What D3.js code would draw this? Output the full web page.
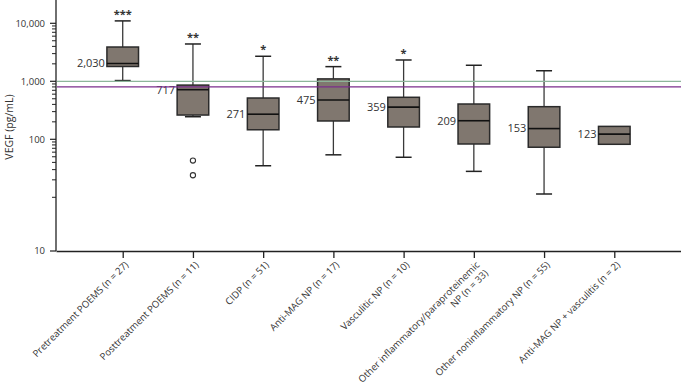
<!DOCTYPE html>
<html>
<head>
<meta charset="utf-8">
<script src="https://cdn.jsdelivr.net/npm/d3@7"></script>
<style>
    html, body { margin: 0; padding: 0; background: #fff; }
    body { width: 681px; height: 385px; overflow: hidden; font-family: "Open Sans", sans-serif; }
    text { fill: #333; }
</style>
</head>
<body>
<div id="chart"></div>
<script>
// Groups (label lines) and box values
const categories = [
    ["Pretreatment POEMS (n = 27)"],
    ["Posttreatment POEMS (n = 11)"],
    ["CIDP (n = 51)"],
    ["Anti-MAG NP (n = 17)"],
    ["Vasculitic NP (n = 10)"],
    ["Other inflammatory/paraproteinemic", "NP (n = 33)"],
    ["Other noninflammatory NP (n = 55)"],
    ["Anti-MAG NP + vasculitis (n = 2)"]
];
const whiskerLow  = [1030, 245, 35, 54, 49, 28, 11.4, 82];
const q1          = [1800, 262, 146, 207, 163, 83, 73, 82];
const medians     = [2030, 717, 271, 475, 359, 209, 153, 123];
const q3          = [3900, 860, 515, 1100, 530, 406, 365, 167];
const whiskerHigh = [11000, 4400, 2700, 1790, 2330, 1890, 1520, 167];
const outliers    = [[], [43, 24], [], [], [], [], [], []];
const stars       = ["***", "**", "*", "**", "*", "", "", ""];
const medianLabels = ["2,030", "717", "271", "475", "359", "209", "153", "123"];

// reference lines (pg/mL)
const refValues = [1000, 800];
const refColors = ["#8db59a", "#7b2d8b"];

const yMajor = [10000, 1000, 100];
const yMajorLabels = ["10,000", "1,000", "100"];
const yMinor = [20, 30, 40, 50, 60, 70, 80, 90, 200, 300, 400, 500, 600, 700, 800, 900,
                2000, 3000, 4000, 5000, 6000, 7000, 8000, 9000, 10];
const yBottomLabel = "10";

const width = 681, height = 385;
const left = 56, right = 681, plotTop = 0, plotBottom = 251;

const svg = d3.select("#chart").append("svg")
    .attr("width", width)
    .attr("height", height);

const keys = categories.map((c, i) => "c" + i);

const x = d3.scalePoint()
    .domain(keys)
    .range([left, right])
    .padding(0.95);

const y = d3.scaleLog()
    .domain([1, 10000])
    .range([255.3, 23.3]);

const boxW = x.step() * 0.45;
const capW = 16;

// Y axis
const yAxisG = svg.append("g").attr("transform", `translate(${left},0)`);
yAxisG.append("line")
    .attr("y1", plotTop).attr("y2", plotBottom)
    .attr("stroke", "#222").attr("stroke-width", 1.3);

yAxisG.selectAll(".minor")
    .data(yMinor)
    .join("line")
    .attr("x1", -4).attr("x2", 0)
    .attr("y1", d => y(d)).attr("y2", d => y(d))
    .attr("stroke", "#222").attr("stroke-width", 1);

const yTickData = yMajor.map((v, i) => ({ pos: y(v), label: yMajorLabels[i] }))
    .concat([{ pos: plotBottom, label: yBottomLabel }]);

yAxisG.selectAll(".major")
    .data(yTickData)
    .join("line")
    .attr("x1", -6).attr("x2", 0)
    .attr("y1", d => d.pos).attr("y2", d => d.pos)
    .attr("stroke", "#222").attr("stroke-width", 1.2);

yAxisG.selectAll(".ylab")
    .data(yTickData)
    .join("text")
    .attr("x", -11)
    .attr("y", d => d.pos)
    .attr("dy", "0.35em")
    .attr("text-anchor", "end")
    .style("font-size", "9.5px")
    .text(d => d.label);

svg.append("text")
    .attr("transform", `translate(13,127) rotate(-90)`)
    .attr("text-anchor", "middle")
    .style("font-size", "10.5px")
    .text("VEGF (pg/mL)");

// X axis
svg.append("g")
    .attr("transform", `translate(0,${plotBottom})`)
    .call(d3.axisBottom(x).tickSize(7).tickFormat("").tickSizeOuter(0))
    .call(g => g.select(".domain").attr("stroke", "#222").attr("stroke-width", 1.3))
    .call(g => g.selectAll(".tick line").attr("stroke", "#222").attr("stroke-width", 1.3));

const xLabels = svg.selectAll(".xlab")
    .data(categories)
    .join("text")
    .attr("transform", (d, i) => `translate(${x(keys[i]) + 4},${plotBottom + 12}) rotate(-45)`)
    .attr("text-anchor", "end")
    .style("font-size", "9.6px");

xLabels.selectAll("tspan")
    .data(d => d)
    .join("tspan")
    .attr("x", 0)
    .attr("dy", (d, j) => j === 0 ? "0.35em" : "1.25em")
    .text(d => d);

// Boxes
const boxes = svg.selectAll(".box")
    .data(keys)
    .join("g")
    .attr("class", "box");

boxes.each(function (k, i) {
    const g = d3.select(this);
    const cx = x(k);
    if (whiskerHigh[i] > q3[i]) {
        g.append("line")
            .attr("x1", cx).attr("x2", cx)
            .attr("y1", y(q3[i])).attr("y2", y(whiskerHigh[i]))
            .attr("stroke", "#3a3a3a").attr("stroke-width", 1.3);
        g.append("line")
            .attr("x1", cx - capW / 2).attr("x2", cx + capW / 2)
            .attr("y1", y(whiskerHigh[i])).attr("y2", y(whiskerHigh[i]))
            .attr("stroke", "#222").attr("stroke-width", 1.5);
    }
    if (whiskerLow[i] < q1[i]) {
        g.append("line")
            .attr("x1", cx).attr("x2", cx)
            .attr("y1", y(q1[i])).attr("y2", y(whiskerLow[i]))
            .attr("stroke", "#3a3a3a").attr("stroke-width", 1.3);
        g.append("line")
            .attr("x1", cx - capW / 2).attr("x2", cx + capW / 2)
            .attr("y1", y(whiskerLow[i])).attr("y2", y(whiskerLow[i]))
            .attr("stroke", "#222").attr("stroke-width", 1.5);
    }
    g.append("rect")
        .attr("x", cx - boxW / 2)
        .attr("y", y(q3[i]))
        .attr("width", boxW)
        .attr("height", y(q1[i]) - y(q3[i]))
        .attr("fill", "#80776f")
        .attr("stroke", "#2a2a2a")
        .attr("stroke-width", 1.5);
    g.append("line")
        .attr("x1", cx - boxW / 2).attr("x2", cx + boxW / 2)
        .attr("y1", y(medians[i])).attr("y2", y(medians[i]))
        .attr("stroke", "#111").attr("stroke-width", 1.6);
    g.selectAll("circle")
        .data(outliers[i])
        .join("circle")
        .attr("cx", cx)
        .attr("cy", v => y(v))
        .attr("r", 2.6)
        .attr("fill", "#fff")
        .attr("stroke", "#333")
        .attr("stroke-width", 1.1);
    g.append("text")
        .attr("x", cx - boxW / 2 - 2)
        .attr("y", y(medians[i]))
        .attr("dy", "0.35em")
        .attr("text-anchor", "end")
        .style("font-size", "11px")
        .text(medianLabels[i]);
    if (stars[i]) {
        g.append("text")
            .attr("x", cx)
            .attr("y", y(whiskerHigh[i]) - 3)
            .attr("text-anchor", "middle")
            .style("font-size", "11px")
            .style("font-weight", "bold")
            .text(stars[i]);
    }
});

// Reference lines
svg.selectAll(".ref")
    .data(refValues)
    .join("line")
    .attr("x1", left + 1).attr("x2", right)
    .attr("y1", d => y(d)).attr("y2", d => y(d))
    .attr("stroke", (d, i) => refColors[i])
    .attr("stroke-width", 1.3);
</script>
</body>
</html>
